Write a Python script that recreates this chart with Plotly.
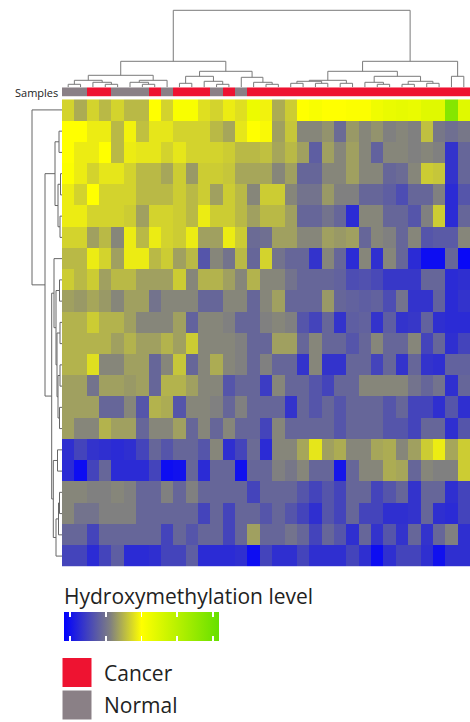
import plotly.graph_objects as go

W, H = 470, 722

# ---------------- data ----------------
hmc_level = [
    [0.43,0.37,0.43,0.39,0.43,0.39,0.39,0.50,0.43,0.52,0.52,0.45,0.43,0.47,0.45,0.56,0.48,0.37,0.42,0.50,0.52,0.50,0.50,0.51,0.51,0.55,0.57,0.58,0.57,0.60,0.60,0.90,0.60],
    [0.50,0.50,0.47,0.47,0.39,0.48,0.40,0.46,0.46,0.43,0.43,0.43,0.39,0.36,0.46,0.50,0.49,0.35,0.41,0.31,0.31,0.33,0.25,0.34,0.31,0.33,0.30,0.31,0.30,0.40,0.28,0.26,0.28],
    [0.50,0.47,0.47,0.50,0.39,0.47,0.46,0.46,0.43,0.46,0.43,0.43,0.43,0.42,0.39,0.39,0.40,0.36,0.39,0.35,0.22,0.35,0.31,0.35,0.31,0.23,0.31,0.31,0.30,0.31,0.30,0.12,0.24],
    [0.51,0.47,0.43,0.46,0.46,0.43,0.39,0.39,0.36,0.42,0.34,0.42,0.42,0.41,0.36,0.36,0.36,0.31,0.35,0.24,0.24,0.31,0.31,0.35,0.31,0.31,0.24,0.25,0.31,0.42,0.41,0.12,0.24],
    [0.47,0.43,0.50,0.43,0.43,0.43,0.39,0.39,0.39,0.42,0.39,0.42,0.35,0.42,0.39,0.31,0.42,0.42,0.31,0.27,0.27,0.34,0.30,0.30,0.24,0.24,0.22,0.18,0.24,0.24,0.30,0.10,0.20],
    [0.47,0.47,0.43,0.43,0.43,0.42,0.35,0.43,0.43,0.42,0.39,0.47,0.42,0.42,0.39,0.35,0.39,0.39,0.35,0.24,0.24,0.27,0.24,0.10,0.31,0.31,0.24,0.24,0.20,0.30,0.42,0.10,0.24],
    [0.43,0.43,0.35,0.39,0.31,0.47,0.39,0.47,0.43,0.42,0.47,0.35,0.35,0.47,0.42,0.25,0.26,0.35,0.35,0.31,0.31,0.35,0.34,0.35,0.24,0.31,0.30,0.24,0.31,0.20,0.21,0.21,0.31],
    [0.39,0.39,0.47,0.43,0.35,0.47,0.47,0.39,0.42,0.35,0.39,0.20,0.31,0.27,0.39,0.24,0.43,0.27,0.24,0.24,0.12,0.31,0.24,0.10,0.31,0.11,0.31,0.24,0.10,0.03,0.03,0.24,0.02],
    [0.42,0.39,0.42,0.35,0.39,0.39,0.35,0.35,0.35,0.42,0.31,0.38,0.38,0.35,0.31,0.38,0.31,0.31,0.27,0.24,0.24,0.24,0.23,0.18,0.19,0.17,0.13,0.13,0.13,0.24,0.24,0.10,0.11],
    [0.35,0.34,0.36,0.34,0.31,0.35,0.35,0.27,0.31,0.31,0.31,0.24,0.24,0.31,0.31,0.24,0.31,0.35,0.24,0.24,0.24,0.34,0.24,0.23,0.22,0.23,0.18,0.27,0.12,0.12,0.23,0.10,0.12],
    [0.38,0.38,0.42,0.38,0.38,0.35,0.31,0.31,0.31,0.35,0.23,0.31,0.31,0.30,0.24,0.24,0.30,0.31,0.30,0.20,0.16,0.24,0.12,0.22,0.23,0.12,0.22,0.12,0.13,0.23,0.11,0.10,0.10],
    [0.38,0.38,0.38,0.38,0.35,0.38,0.35,0.35,0.38,0.35,0.42,0.31,0.31,0.31,0.30,0.24,0.24,0.35,0.35,0.24,0.31,0.24,0.24,0.20,0.24,0.31,0.24,0.24,0.31,0.16,0.24,0.11,0.16],
    [0.38,0.38,0.45,0.31,0.31,0.35,0.35,0.24,0.31,0.41,0.24,0.31,0.37,0.31,0.30,0.24,0.30,0.24,0.24,0.12,0.31,0.12,0.12,0.24,0.24,0.16,0.24,0.12,0.24,0.12,0.11,0.23,0.23],
    [0.35,0.35,0.27,0.35,0.35,0.34,0.35,0.24,0.38,0.38,0.35,0.31,0.31,0.20,0.24,0.24,0.14,0.31,0.24,0.24,0.20,0.16,0.24,0.24,0.31,0.31,0.31,0.31,0.27,0.24,0.27,0.11,0.24],
    [0.35,0.35,0.35,0.24,0.24,0.31,0.20,0.38,0.37,0.20,0.31,0.31,0.30,0.24,0.30,0.24,0.24,0.24,0.12,0.24,0.20,0.24,0.20,0.24,0.24,0.24,0.20,0.24,0.16,0.16,0.11,0.20,0.11],
    [0.35,0.31,0.31,0.38,0.35,0.35,0.24,0.31,0.31,0.35,0.24,0.31,0.24,0.31,0.24,0.24,0.16,0.31,0.24,0.24,0.24,0.24,0.20,0.24,0.24,0.24,0.20,0.20,0.16,0.24,0.24,0.11,0.20],
    [0.11,0.16,0.12,0.11,0.10,0.11,0.16,0.24,0.20,0.24,0.24,0.20,0.31,0.11,0.16,0.25,0.10,0.31,0.31,0.36,0.46,0.35,0.37,0.31,0.31,0.36,0.37,0.31,0.35,0.42,0.47,0.36,0.42],
    [0.10,0.03,0.16,0.24,0.10,0.10,0.10,0.16,0.03,0.04,0.24,0.10,0.24,0.24,0.04,0.24,0.24,0.30,0.28,0.31,0.24,0.24,0.05,0.24,0.31,0.31,0.37,0.36,0.24,0.31,0.30,0.30,0.42],
    [0.31,0.31,0.30,0.30,0.31,0.30,0.24,0.24,0.30,0.24,0.30,0.24,0.24,0.24,0.24,0.16,0.24,0.24,0.24,0.20,0.16,0.20,0.16,0.24,0.24,0.16,0.20,0.24,0.12,0.24,0.24,0.11,0.16],
    [0.31,0.27,0.27,0.30,0.30,0.30,0.24,0.24,0.24,0.24,0.24,0.16,0.24,0.16,0.24,0.24,0.20,0.24,0.20,0.16,0.11,0.20,0.16,0.24,0.16,0.16,0.11,0.11,0.12,0.24,0.11,0.10,0.16],
    [0.24,0.24,0.16,0.24,0.24,0.24,0.24,0.24,0.16,0.24,0.20,0.24,0.24,0.16,0.24,0.35,0.24,0.24,0.27,0.24,0.16,0.24,0.20,0.11,0.24,0.12,0.20,0.12,0.24,0.12,0.24,0.30,0.11],
    [0.16,0.16,0.10,0.16,0.22,0.10,0.10,0.11,0.16,0.16,0.22,0.10,0.10,0.10,0.11,0.03,0.16,0.11,0.11,0.16,0.11,0.11,0.11,0.16,0.11,0.03,0.11,0.16,0.16,0.11,0.04,0.11,0.11],
]

sample_type = ["Normal", "Normal", "Cancer", "Cancer", "Normal", "Normal", "Normal",
               "Cancer", "Normal", "Cancer", "Cancer", "Cancer", "Normal", "Cancer",
               "Normal", "Cancer", "Cancer", "Cancer", "Cancer", "Cancer", "Cancer",
               "Cancer", "Cancer", "Cancer", "Cancer", "Cancer", "Cancer", "Cancer",
               "Cancer", "Cancer", "Cancer", "Cancer", "Cancer"]

legend_labels = ["Cancer", "Normal"]
legend_colors = ["#ee1331", "#8a8086"]

# linkage: [child_a, child_b, height]; ids >= n are earlier merges
col_linkage = [
    [0, 1, 3], [3, 4, 3], [2, 34, 5], [33, 35, 7],
    [6, 7, 3], [5, 37, 5], [38, 8, 7], [36, 39, 12],
    [9, 10, 4], [12, 13, 3], [11, 42, 6], [41, 43, 11],
    [16, 17, 3], [15, 45, 5], [14, 46, 10], [44, 47, 16],
    [40, 48, 26],
    [18, 19, 4], [20, 21, 4], [50, 51, 6], [22, 23, 4], [52, 53, 7],
    [25, 26, 3], [24, 55, 5], [27, 28, 3], [29, 30, 4], [57, 58, 6], [56, 59, 11],
    [54, 60, 16], [31, 32, 11], [61, 62, 26],
    [49, 63, 77],
]

row_linkage = [
    [1, 2, 3], [3, 4, 1.5], [5, 6, 2], [23, 24, 4], [22, 25, 7],
    [8, 9, 2.5], [10, 11, 2], [12, 13, 2], [14, 15, 2.5], [29, 30, 4],
    [28, 31, 5], [27, 32, 6], [7, 33, 8],
    [16, 17, 4.5], [18, 19, 2.5], [36, 20, 3.5], [37, 21, 6], [35, 38, 8.7],
    [34, 39, 10.3], [26, 40, 17], [0, 41, 30],
]

colorscale = [[0.0, "#0000ff"], [0.3, "#808080"], [0.5, "#ffff00"], [1.0, "#66e000"]]
scale_ticks = [0.04, 0.27, 0.5, 0.73, 0.96]

# ---------------- layout geometry (pixels) ----------------
hm_left, hm_top, hm_bottom = 62, 99.3, 566.7
bar_top, bar_bottom = 87.3, 96.7
cb_left, cb_top, cb_bottom, cb_len = 64, 617, 646, 155
n_rows, n_cols = len(hmc_level), len(hmc_level[0])


def py(p):
    return (H - p) / H


def dendro_lines(linkage, n):
    pos = {i: float(i) for i in range(n)}
    hgt = {i: 0.0 for i in range(n)}
    xs, ys = [], []
    for k, (a, b, h) in enumerate(linkage):
        xs += [pos[a], pos[a], pos[b], pos[b], None]
        ys += [hgt[a], h, h, hgt[b], None]
        pos[n + k] = (pos[a] + pos[b]) / 2
        hgt[n + k] = h
    return xs, ys


def cbar(bottom_px, thick):
    return dict(
        orientation="h", x=cb_left / W, xanchor="left", y=py(bottom_px), yanchor="bottom",
        len=cb_len, lenmode="pixels", thickness=thick, thicknessmode="pixels",
        xpad=0, ypad=0, outlinewidth=0,
        tickvals=scale_ticks, ticks="inside", ticklen=5,
        tickcolor="white", tickwidth=1.5, showticklabels=False,
    )


fig = go.Figure()

fig.add_trace(go.Heatmap(
    z=hmc_level, colorscale=colorscale, zmin=0, zmax=1,
    xaxis="x", yaxis="y", hoverinfo="skip",
    colorbar=cbar(cb_bottom, cb_bottom - cb_top),
))

# thin strip of the same scale over the top edge, to carry the upper tick marks
fig.add_trace(go.Scatter(
    x=[None, None], y=[None, None], mode="markers", xaxis="x", yaxis="y",
    marker=dict(color=[0, 1], colorscale=colorscale, cmin=0, cmax=1,
                showscale=True, colorbar=cbar(cb_top + 5, 5)),
    hoverinfo="skip", showlegend=False,
))

fig.add_trace(go.Heatmap(
    z=[[1 if s == "Cancer" else 0 for s in sample_type]],
    colorscale=[[0, legend_colors[1]], [0.5, legend_colors[1]],
                [0.5, legend_colors[0]], [1, legend_colors[0]]],
    zmin=0, zmax=1, showscale=False, xaxis="x", yaxis="y4", hoverinfo="skip",
))

cx, cy = dendro_lines(col_linkage, n_cols)
fig.add_trace(go.Scatter(x=cx, y=cy, mode="lines", xaxis="x", yaxis="y2",
                         line=dict(color="#7a7a7a", width=1), hoverinfo="skip",
                         showlegend=False))

rx, ry = dendro_lines(row_linkage, n_rows)
fig.add_trace(go.Scatter(x=ry, y=rx, mode="lines", xaxis="x3", yaxis="y",
                         line=dict(color="#666666", width=1), hoverinfo="skip",
                         showlegend=False))

# legend (categories)
leg_x, leg_y0, leg_dy = 77, 672.5, 32.5
fig.add_trace(go.Scatter(
    x=[leg_x] * len(legend_labels),
    y=[leg_y0 + i * leg_dy for i in range(len(legend_labels))],
    mode="markers", marker=dict(symbol="square", size=29, color=legend_colors, line=dict(width=0)),
    xaxis="x6", yaxis="y6", hoverinfo="skip", showlegend=False))
fig.add_trace(go.Scatter(
    x=[104] * len(legend_labels),
    y=[leg_y0 + 3 + i * leg_dy for i in range(len(legend_labels))],
    mode="text", text=legend_labels, textposition="middle right",
    textfont=dict(family="Open Sans", size=21, color="#222222"),
    xaxis="x6", yaxis="y6", hoverinfo="skip", showlegend=False))

hidden = dict(showgrid=False, zeroline=False, showticklabels=False, ticks="",
              showline=False, fixedrange=True)

fig.update_layout(
    width=W, height=H, margin=dict(l=0, r=0, t=0, b=0, autoexpand=False),
    paper_bgcolor="white", plot_bgcolor="rgba(0,0,0,0)", showlegend=False,
    font=dict(family="Open Sans", color="#222222"),
    xaxis=dict(domain=[hm_left / W, 1], range=[-0.5, n_cols - 0.5], anchor="y", **hidden),
    yaxis=dict(domain=[py(hm_bottom), py(hm_top)], range=[n_rows - 0.5, -0.5], anchor="x", **hidden),
    yaxis2=dict(domain=[py(bar_top), 1], range=[0, bar_top], anchor="x", **hidden),
    yaxis4=dict(domain=[py(bar_bottom), py(bar_top)], range=[-0.5, 0.5], anchor="x", **hidden),
    xaxis3=dict(domain=[0, hm_left / W], range=[hm_left, 0], anchor="y", **hidden),
    xaxis6=dict(domain=[0, 1], range=[0, W], anchor="y6", **hidden),
    yaxis6=dict(domain=[0, 1], range=[H, 0], anchor="x6", **hidden),
    annotations=[
        dict(text="Samples", x=60 / W, y=py(92), xref="paper", yref="paper",
             xanchor="right", yanchor="middle", showarrow=False,
             font=dict(family="Open Sans", size=11, color="#222222")),
        dict(text="Hydroxymethylation level", x=62 / W, y=py(596), xref="paper", yref="paper",
             xanchor="left", yanchor="middle", showarrow=False,
             font=dict(family="Open Sans", size=21, color="#222222")),
    ],
)

fig.write_html(
    "out.html",
    config={"displayModeBar": False, "staticPlot": True},
    post_script="document.body.style.margin='0';document.body.style.overflow='hidden';",
)
